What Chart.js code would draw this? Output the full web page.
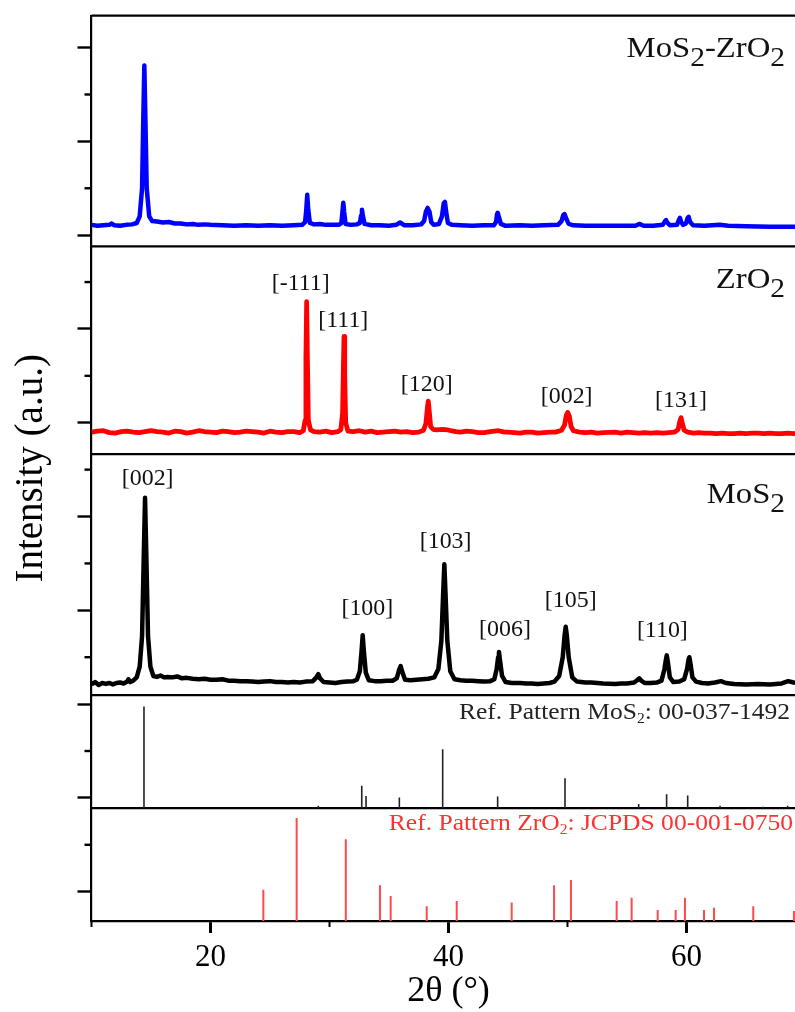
<!DOCTYPE html>
<html>
<head>
<meta charset="utf-8">
<script src="https://cdn.jsdelivr.net/npm/chart.js@4.4.1/dist/chart.umd.min.js"></script>
<style>
  html, body { margin: 0; padding: 0; overflow: hidden; background: #fff; }
  #wrap { width: 810px; height: 1012px; }
</style>
</head>
<body>
<div id="wrap"><canvas id="xrdChart" width="810" height="1012"></canvas></div>
<script>
// axis ranges (y in arbitrary units, one unit per minor tick)
const thetaMin = 10, thetaMax = 70;
const yMin = -0.625, yMax = 18.68;
const xMajorTicks = [20, 40, 60];
const xMinorTicks = [10, 30, 50, 70];
const yMajorTicks = [0, 2, 4, 6, 8, 10, 12, 14, 16, 18];
const yMinorTicks = [1, 3, 5, 7, 9, 11, 13, 15, 17];

// horizontal lines between the stacked panels
const panelEdges = [18.68, 13.76, 9.33, 4.19, 1.78];

// baseline of each trace
const compositeOffset = 14.20;
const zro2Offset = 9.80;
const mos2Offset = 4.45;
const refMos2Base = 1.78;
const refZro2Base = -0.625;

// MoS2-ZrO2 scan [2theta, intensity above baseline]
const compositeScan = [
  [10.0, 0.02], [10.5, 0.0], [11.0, 0.01], [11.5, 0.02], [11.7, 0.05], [11.9, 0.01],
  [12.4, 0.0], [12.9, 0.02], [13.4, 0.03], [13.8, 0.06], [14.05, 0.2], [14.25, 0.8],
  [14.36, 2.4], [14.44, 3.42], [14.52, 2.4], [14.64, 0.8], [14.85, 0.2], [15.1, 0.1],
  [15.5, 0.09], [16.0, 0.07], [16.5, 0.08], [17.0, 0.05], [17.5, 0.05], [18.0, 0.03],
  [18.5, 0.04], [19.0, 0.02], [19.5, 0.03], [20.0, 0.02], [21.0, 0.01], [22.0, 0.0],
  [23.0, 0.01], [24.0, 0.0], [25.0, 0.01], [26.0, 0.0], [27.0, 0.01], [27.7, 0.02],
  [27.95, 0.08], [28.05, 0.35], [28.13, 0.66], [28.21, 0.35], [28.35, 0.06], [28.7, 0.03],
  [29.2, 0.04], [29.7, 0.02], [30.3, 0.02], [30.8, 0.02], [31.0, 0.06], [31.09, 0.3],
  [31.16, 0.49], [31.23, 0.3], [31.35, 0.04], [31.8, 0.02], [32.3, 0.03], [32.55, 0.06],
  [32.66, 0.22], [32.73, 0.34], [32.8, 0.22], [32.95, 0.04], [33.5, 0.01], [34.2, 0.01],
  [35.0, 0.0], [35.6, 0.02], [35.93, 0.07], [36.3, 0.01], [37.0, 0.01], [37.7, 0.03],
  [37.95, 0.1], [38.1, 0.3], [38.25, 0.38], [38.4, 0.3], [38.55, 0.08], [38.75, 0.02],
  [39.2, 0.04], [39.45, 0.2], [39.6, 0.48], [39.7, 0.51], [39.8, 0.3], [39.95, 0.06],
  [40.3, 0.02], [41.0, 0.01], [42.0, 0.0], [43.0, 0.01], [43.8, 0.01], [44.0, 0.08],
  [44.08, 0.25], [44.13, 0.28], [44.22, 0.2], [44.4, 0.04], [44.8, 0.0], [46.0, 0.01],
  [47.0, 0.0], [48.0, 0.01], [49.2, 0.02], [49.5, 0.1], [49.65, 0.23], [49.75, 0.25],
  [49.88, 0.16], [50.1, 0.04], [50.5, 0.01], [51.5, 0.0], [53.0, 0.0], [54.5, 0.0],
  [55.7, 0.0], [56.03, 0.04], [56.4, 0.0], [57.2, 0.0], [58.0, 0.02], [58.2, 0.1],
  [58.28, 0.12], [58.38, 0.07], [58.6, 0.01], [59.2, 0.02], [59.38, 0.14], [59.45, 0.17],
  [59.55, 0.08], [59.72, 0.02], [59.95, 0.05], [60.1, 0.17], [60.18, 0.19], [60.3, 0.08],
  [60.55, 0.01], [61.5, 0.0], [62.8, 0.02], [63.5, 0.0], [65.0, -0.01], [67.0, -0.02],
  [70.0, -0.02]
];

// ZrO2 scan
const zro2Scan = [
  [10.0, 0.0], [10.5, 0.02], [11.0, 0.03], [11.5, -0.01], [12.0, -0.02], [12.5, 0.01],
  [13.0, 0.02], [13.5, 0.0], [14.0, -0.01], [14.5, 0.01], [15.0, 0.03], [15.5, 0.01],
  [16.0, 0.0], [16.5, -0.02], [17.0, 0.02], [17.5, 0.01], [18.0, -0.02], [18.5, 0.0],
  [19.0, 0.03], [19.5, 0.01], [20.0, 0.0], [20.5, -0.01], [21.0, 0.02], [21.5, 0.01],
  [22.0, -0.01], [22.5, 0.0], [23.0, 0.02], [23.5, 0.01], [24.0, 0.0], [24.5, -0.02],
  [25.0, 0.02], [25.5, 0.0], [26.0, -0.01], [26.5, 0.01], [27.0, 0.01], [27.5, -0.01],
  [27.8, 0.03], [27.95, 0.25], [28.02, 1.6], [28.08, 2.78], [28.14, 1.6], [28.22, 0.25],
  [28.4, 0.05], [28.7, 0.01], [29.2, 0.0], [29.7, 0.02], [30.2, -0.01], [30.7, 0.01],
  [30.95, 0.05], [31.1, 0.4], [31.17, 1.4], [31.22, 2.04], [31.28, 1.2], [31.36, 0.2],
  [31.55, 0.02], [32.0, 0.01], [32.5, 0.03], [33.0, 0.0], [33.5, 0.02], [34.0, -0.01],
  [34.5, 0.0], [35.0, 0.01], [35.5, 0.02], [36.0, 0.0], [36.5, 0.01], [37.0, -0.01],
  [37.5, 0.0], [37.9, 0.04], [38.1, 0.18], [38.22, 0.5], [38.3, 0.66], [38.38, 0.45],
  [38.5, 0.12], [38.7, 0.06], [39.0, 0.05], [39.5, 0.06], [39.9, 0.05], [40.2, 0.03],
  [40.6, 0.01], [41.0, 0.0], [41.5, 0.02], [42.0, 0.01], [42.5, -0.01], [43.0, -0.01],
  [43.5, 0.01], [44.2, 0.03], [44.7, 0.0], [45.0, 0.0], [45.5, -0.01], [46.0, -0.02],
  [46.5, 0.0], [47.0, 0.0], [47.5, -0.02], [48.0, -0.01], [48.5, 0.0], [49.0, 0.0],
  [49.5, 0.04], [49.75, 0.15], [49.9, 0.36], [50.02, 0.42], [50.15, 0.34], [50.3, 0.12],
  [50.5, 0.03], [51.0, 0.0], [51.5, -0.01], [52.0, 0.0], [52.5, -0.02], [53.0, -0.01],
  [54.0, 0.0], [54.5, -0.02], [55.0, 0.0], [55.5, -0.01], [56.0, -0.02], [56.5, -0.01],
  [57.0, -0.02], [57.5, -0.01], [58.0, -0.02], [58.5, -0.01], [59.0, 0.0], [59.3, 0.06],
  [59.43, 0.22], [59.54, 0.31], [59.64, 0.2], [59.8, 0.04], [60.1, 0.0], [60.6, -0.02],
  [61.0, -0.01], [61.5, -0.02], [62.0, -0.02], [62.5, -0.03], [63.0, -0.02], [63.5, -0.03],
  [64.0, -0.03], [64.5, -0.02], [65.0, -0.03], [65.5, -0.02], [66.0, -0.02], [66.5, -0.03],
  [67.0, -0.02], [67.5, -0.03], [68.0, -0.03], [68.5, -0.02], [69.0, -0.03], [69.5, -0.02],
  [70.0, -0.02]
];

// MoS2 scan
const mos2Scan = [
  [10.0, -0.03], [10.3, 0.02], [10.6, -0.04], [10.9, 0.0], [11.2, -0.02], [11.5, 0.0],
  [11.8, -0.03], [12.1, 0.0], [12.4, 0.01], [12.7, -0.01], [13.0, 0.03], [13.1, 0.08],
  [13.25, 0.02], [13.5, 0.05], [13.8, 0.12], [14.05, 0.35], [14.25, 1.0], [14.4, 2.8],
  [14.5, 3.95], [14.6, 2.8], [14.75, 1.0], [14.95, 0.35], [15.2, 0.15], [15.5, 0.13],
  [15.8, 0.16], [16.1, 0.12], [16.4, 0.13], [16.8, 0.12], [17.2, 0.14], [17.6, 0.1],
  [18.0, 0.11], [18.5, 0.09], [19.0, 0.08], [19.5, 0.09], [20.0, 0.07], [20.5, 0.07],
  [21.0, 0.08], [21.5, 0.05], [22.0, 0.05], [22.5, 0.04], [23.0, 0.04], [23.5, 0.03],
  [24.0, 0.02], [24.5, 0.03], [25.0, 0.04], [25.5, 0.02], [26.0, 0.02], [26.5, 0.01],
  [27.0, 0.02], [27.5, 0.01], [28.0, 0.03], [28.6, 0.04], [28.9, 0.12], [29.06, 0.19],
  [29.2, 0.1], [29.5, 0.02], [30.0, 0.01], [30.5, 0.0], [31.0, 0.02], [31.5, 0.03],
  [32.0, 0.04], [32.3, 0.07], [32.55, 0.25], [32.7, 0.7], [32.79, 1.02], [32.88, 0.7],
  [33.05, 0.22], [33.3, 0.06], [33.8, 0.04], [34.3, 0.04], [34.8, 0.05], [35.3, 0.05],
  [35.65, 0.1], [35.85, 0.28], [35.98, 0.36], [36.1, 0.25], [36.35, 0.07], [36.8, 0.06],
  [37.3, 0.07], [37.8, 0.08], [38.3, 0.09], [38.8, 0.12], [39.15, 0.3], [39.4, 0.9],
  [39.55, 1.9], [39.65, 2.53], [39.75, 1.9], [39.9, 0.9], [40.15, 0.25], [40.5, 0.08],
  [41.0, 0.06], [41.5, 0.05], [42.0, 0.05], [42.5, 0.04], [43.0, 0.03], [43.5, 0.04],
  [43.85, 0.08], [44.05, 0.3], [44.17, 0.55], [44.24, 0.66], [44.32, 0.5], [44.5, 0.15],
  [44.8, 0.02], [45.3, 0.0], [46.0, 0.0], [46.5, -0.01], [47.0, -0.01], [47.5, -0.02],
  [48.0, -0.01], [48.5, 0.0], [48.9, 0.03], [49.3, 0.15], [49.6, 0.55], [49.75, 1.0],
  [49.85, 1.2], [49.95, 1.0], [50.1, 0.55], [50.4, 0.12], [50.8, 0.03], [51.5, 0.01],
  [52.0, 0.01], [52.5, 0.0], [53.0, -0.01], [54.0, -0.02], [54.5, -0.01], [55.0, -0.01],
  [55.6, 0.01], [55.85, 0.06], [56.03, 0.1], [56.2, 0.05], [56.5, 0.0], [57.0, 0.0],
  [57.5, 0.01], [57.9, 0.05], [58.15, 0.3], [58.27, 0.5], [58.34, 0.59], [58.43, 0.45],
  [58.6, 0.12], [58.9, 0.02], [59.4, 0.03], [59.8, 0.08], [60.05, 0.3], [60.17, 0.5],
  [60.24, 0.55], [60.33, 0.42], [60.5, 0.12], [60.8, 0.03], [61.3, 0.0], [61.8, -0.01],
  [62.4, 0.01], [62.9, 0.04], [63.3, 0.0], [64.0, -0.02], [65.0, -0.03], [66.0, -0.02],
  [67.0, -0.03], [68.0, -0.01], [68.55, 0.04], [69.0, 0.01], [69.5, 0.0], [70.0, -0.02]
];

// reference stick patterns [2theta, relative height]
const refMos2Sticks = [
  [14.41, 2.17], [29.06, 0.05], [32.71, 0.48], [33.07, 0.26], [35.87, 0.23], [39.51, 1.26],
  [44.13, 0.25], [49.79, 0.64], [55.98, 0.09], [58.33, 0.30], [60.10, 0.27], [62.82, 0.05],
  [66.45, 0.03], [68.5, 0.05]
];
const refZro2Sticks = [
  [24.44, 0.665], [27.24, 2.195], [31.37, 1.745], [34.24, 0.765], [35.14, 0.535],
  [38.17, 0.315], [40.69, 0.425], [45.31, 0.395], [48.87, 0.765], [50.29, 0.875],
  [54.13, 0.425], [55.39, 0.495], [57.58, 0.235], [59.09, 0.235], [59.87, 0.495],
  [61.47, 0.235], [62.31, 0.285], [65.61, 0.315], [69.03, 0.215]
];

// peak labels (hkl) and where they sit [2theta, y]
const zro2Hkl = ['[-111]', '[111]', '[120]', '[002]', '[131]'];
const zro2HklAt = [[27.58, 12.97], [31.16, 12.17], [38.17, 10.81], [49.93, 10.56], [59.54, 10.46]];
const mos2Hkl = ['[002]', '[100]', '[103]', '[006]', '[105]', '[110]'];
const mos2HklAt = [[14.72, 8.80], [33.18, 6.02], [39.76, 7.46], [44.75, 5.58], [50.27, 6.20], [57.97, 5.55]];

// panel names, split into [text, isSubscript]
const panelNames = [
  [['MoS', 0], ['2', 1], ['-ZrO', 0], ['2', 1]],
  [['ZrO', 0], ['2', 1]],
  [['MoS', 0], ['2', 1]]
];
const panelNamesAt = [[68.28, 17.80], [68.28, 12.88], [68.28, 8.28]];
const refNames = [
  [['Ref. Pattern MoS', 0], ['2', 1], [': 00-037-1492', 0]],
  [['Ref. Pattern ZrO', 0], ['2', 1], [': JCPDS 00-001-0750', 0]]
];
const refNamesAt = [[68.70, 3.68], [68.95, 1.32]];


const serif = 'Liberation Serif';

function toPoints(scan, offset) {
    return scan.map(p => ({ x: p[0], y: p[1] + offset }));
}

function toSticks(sticks, base) {
    const pts = [];
    sticks.forEach(s => {
        pts.push({ x: s[0], y: base });
        pts.push({ x: s[0], y: base + s[1] });
        pts.push({ x: s[0], y: null }); // break between sticks
    });
    return pts;
}

// draws text with lowered subscripts, slightly widened like the original
function drawRich(ctx, parts, x, y, opt) {
    ctx.save();
    ctx.translate(x, y);
    ctx.scale(opt.stretch, 1);
    ctx.textAlign = 'left';
    ctx.textBaseline = opt.baseline || 'alphabetic';
    ctx.fillStyle = opt.color;
    let w = 0;
    parts.forEach(p => {
        ctx.font = (p[1] ? opt.sub : opt.size) + 'px "' + serif + '"';
        w += ctx.measureText(p[0]).width;
    });
    let cx = opt.align === 'right' ? -w : (opt.align === 'center' ? -w / 2 : 0);
    parts.forEach(p => {
        ctx.font = (p[1] ? opt.sub : opt.size) + 'px "' + serif + '"';
        ctx.fillText(p[0], cx, p[1] ? opt.drop : 0);
        cx += ctx.measureText(p[0]).width;
    });
    ctx.restore();
}

const decorations = {
    id: 'decorations',
    afterDraw(chart) {
        const ctx = chart.ctx;
        const xs = chart.scales.x, ys = chart.scales.y;
        const area = chart.chartArea;

        // minor ticks
        ctx.save();
        ctx.strokeStyle = '#000';
        ctx.lineWidth = 2;
        xMinorTicks.forEach(v => {
            const px = xs.getPixelForValue(v);
            ctx.beginPath();
            ctx.moveTo(px, area.bottom);
            ctx.lineTo(px, area.bottom + 6);
            ctx.stroke();
        });
        ctx.lineWidth = 2.4;
        yMinorTicks.forEach(v => {
            const py = ys.getPixelForValue(v);
            ctx.beginPath();
            ctx.moveTo(area.left, py);
            ctx.lineTo(area.left - 7, py);
            ctx.stroke();
        });
        ctx.restore();

        // hkl labels
        zro2Hkl.forEach((t, i) => {
            drawRich(ctx, [[t, 0]], xs.getPixelForValue(zro2HklAt[i][0]), ys.getPixelForValue(zro2HklAt[i][1]),
                { size: 23, stretch: 1.04, align: 'center', baseline: 'middle', color: '#111' });
        });
        mos2Hkl.forEach((t, i) => {
            drawRich(ctx, [[t, 0]], xs.getPixelForValue(mos2HklAt[i][0]), ys.getPixelForValue(mos2HklAt[i][1]),
                { size: 23, stretch: 1.04, align: 'center', baseline: 'middle', color: '#111' });
        });

        // panel names
        panelNames.forEach((parts, i) => {
            drawRich(ctx, parts, xs.getPixelForValue(panelNamesAt[i][0]), ys.getPixelForValue(panelNamesAt[i][1]),
                { size: 30, sub: 27, drop: 9, stretch: 1.09, align: 'right', color: '#111' });
        });
        const refColors = ['#222', '#ff3030'];
        refNames.forEach((parts, i) => {
            drawRich(ctx, parts, xs.getPixelForValue(refNamesAt[i][0]), ys.getPixelForValue(refNamesAt[i][1]),
                { size: 23, sub: 14, drop: 4, stretch: 1.11, align: 'right', color: refColors[i] });
        });
    }
};

const datasets = [
    { data: toPoints(compositeScan, compositeOffset), borderColor: '#0000ff', borderWidth: 4.5 },
    { data: toPoints(zro2Scan, zro2Offset), borderColor: '#ff0000', borderWidth: 4.8 },
    { data: toPoints(mos2Scan, mos2Offset), borderColor: '#000000', borderWidth: 4.5 },
    { data: toSticks(refMos2Sticks, refMos2Base), borderColor: '#222222', borderWidth: 1.6, spanGaps: false },
    { data: toSticks(refZro2Sticks, refZro2Base), borderColor: '#ff4a4a', borderWidth: 2, spanGaps: false }
];
panelEdges.forEach(e => {
    datasets.push({
        data: [{ x: thetaMin, y: e }, { x: thetaMax, y: e }],
        borderColor: '#000', borderWidth: 2.2, clip: false
    });
});

new Chart(document.getElementById('xrdChart'), {
    type: 'line',
    data: { datasets: datasets },
    options: {
        responsive: false,
        animation: false,
        elements: {
            point: { radius: 0 },
            line: { tension: 0, borderJoinStyle: 'round', borderCapStyle: 'butt', fill: false }
        },
        layout: { padding: { top: 15.7, right: 4.5, bottom: 0, left: 0 } },
        plugins: { legend: { display: false }, tooltip: { enabled: false } },
        scales: {
            x: {
                type: 'linear',
                min: thetaMin,
                max: thetaMax,
                afterBuildTicks: (scale) => { scale.ticks = xMajorTicks.map(v => ({ value: v })); },
                afterFit: (scale) => { scale.height = 91; },
                grid: { drawOnChartArea: false, drawTicks: true, tickLength: 12, tickWidth: 3, tickColor: '#000' },
                border: { display: true, color: '#000', width: 2.2 },
                ticks: {
                    color: '#000',
                    padding: 9,
                    maxRotation: 0,
                    font: { family: serif, size: 31, lineHeight: 1 },
                    callback: (v) => String(v)
                },
                title: {
                    display: true,
                    text: '2θ (°)',
                    color: '#000',
                    font: { family: serif, size: 36, lineHeight: 1 },
                    padding: { top: 0, bottom: 2 }
                }
            },
            y: {
                type: 'linear',
                min: yMin,
                max: yMax,
                afterBuildTicks: (scale) => { scale.ticks = yMajorTicks.map(v => ({ value: v })); },
                afterFit: (scale) => { scale.width = 91.5; },
                grid: { drawOnChartArea: false, drawTicks: true, tickLength: 14, tickWidth: 2.4, tickColor: '#000' },
                border: { display: true, color: '#000', width: 2.2 },
                ticks: { display: false },
                title: {
                    display: true,
                    text: 'Intensity (a.u.)',
                    color: '#000',
                    font: { family: serif, size: 39, lineHeight: 1 },
                    padding: { top: 12.5, bottom: 0 }
                }
            }
        }
    },
    plugins: [decorations]
});
</script>
</body>
</html>
